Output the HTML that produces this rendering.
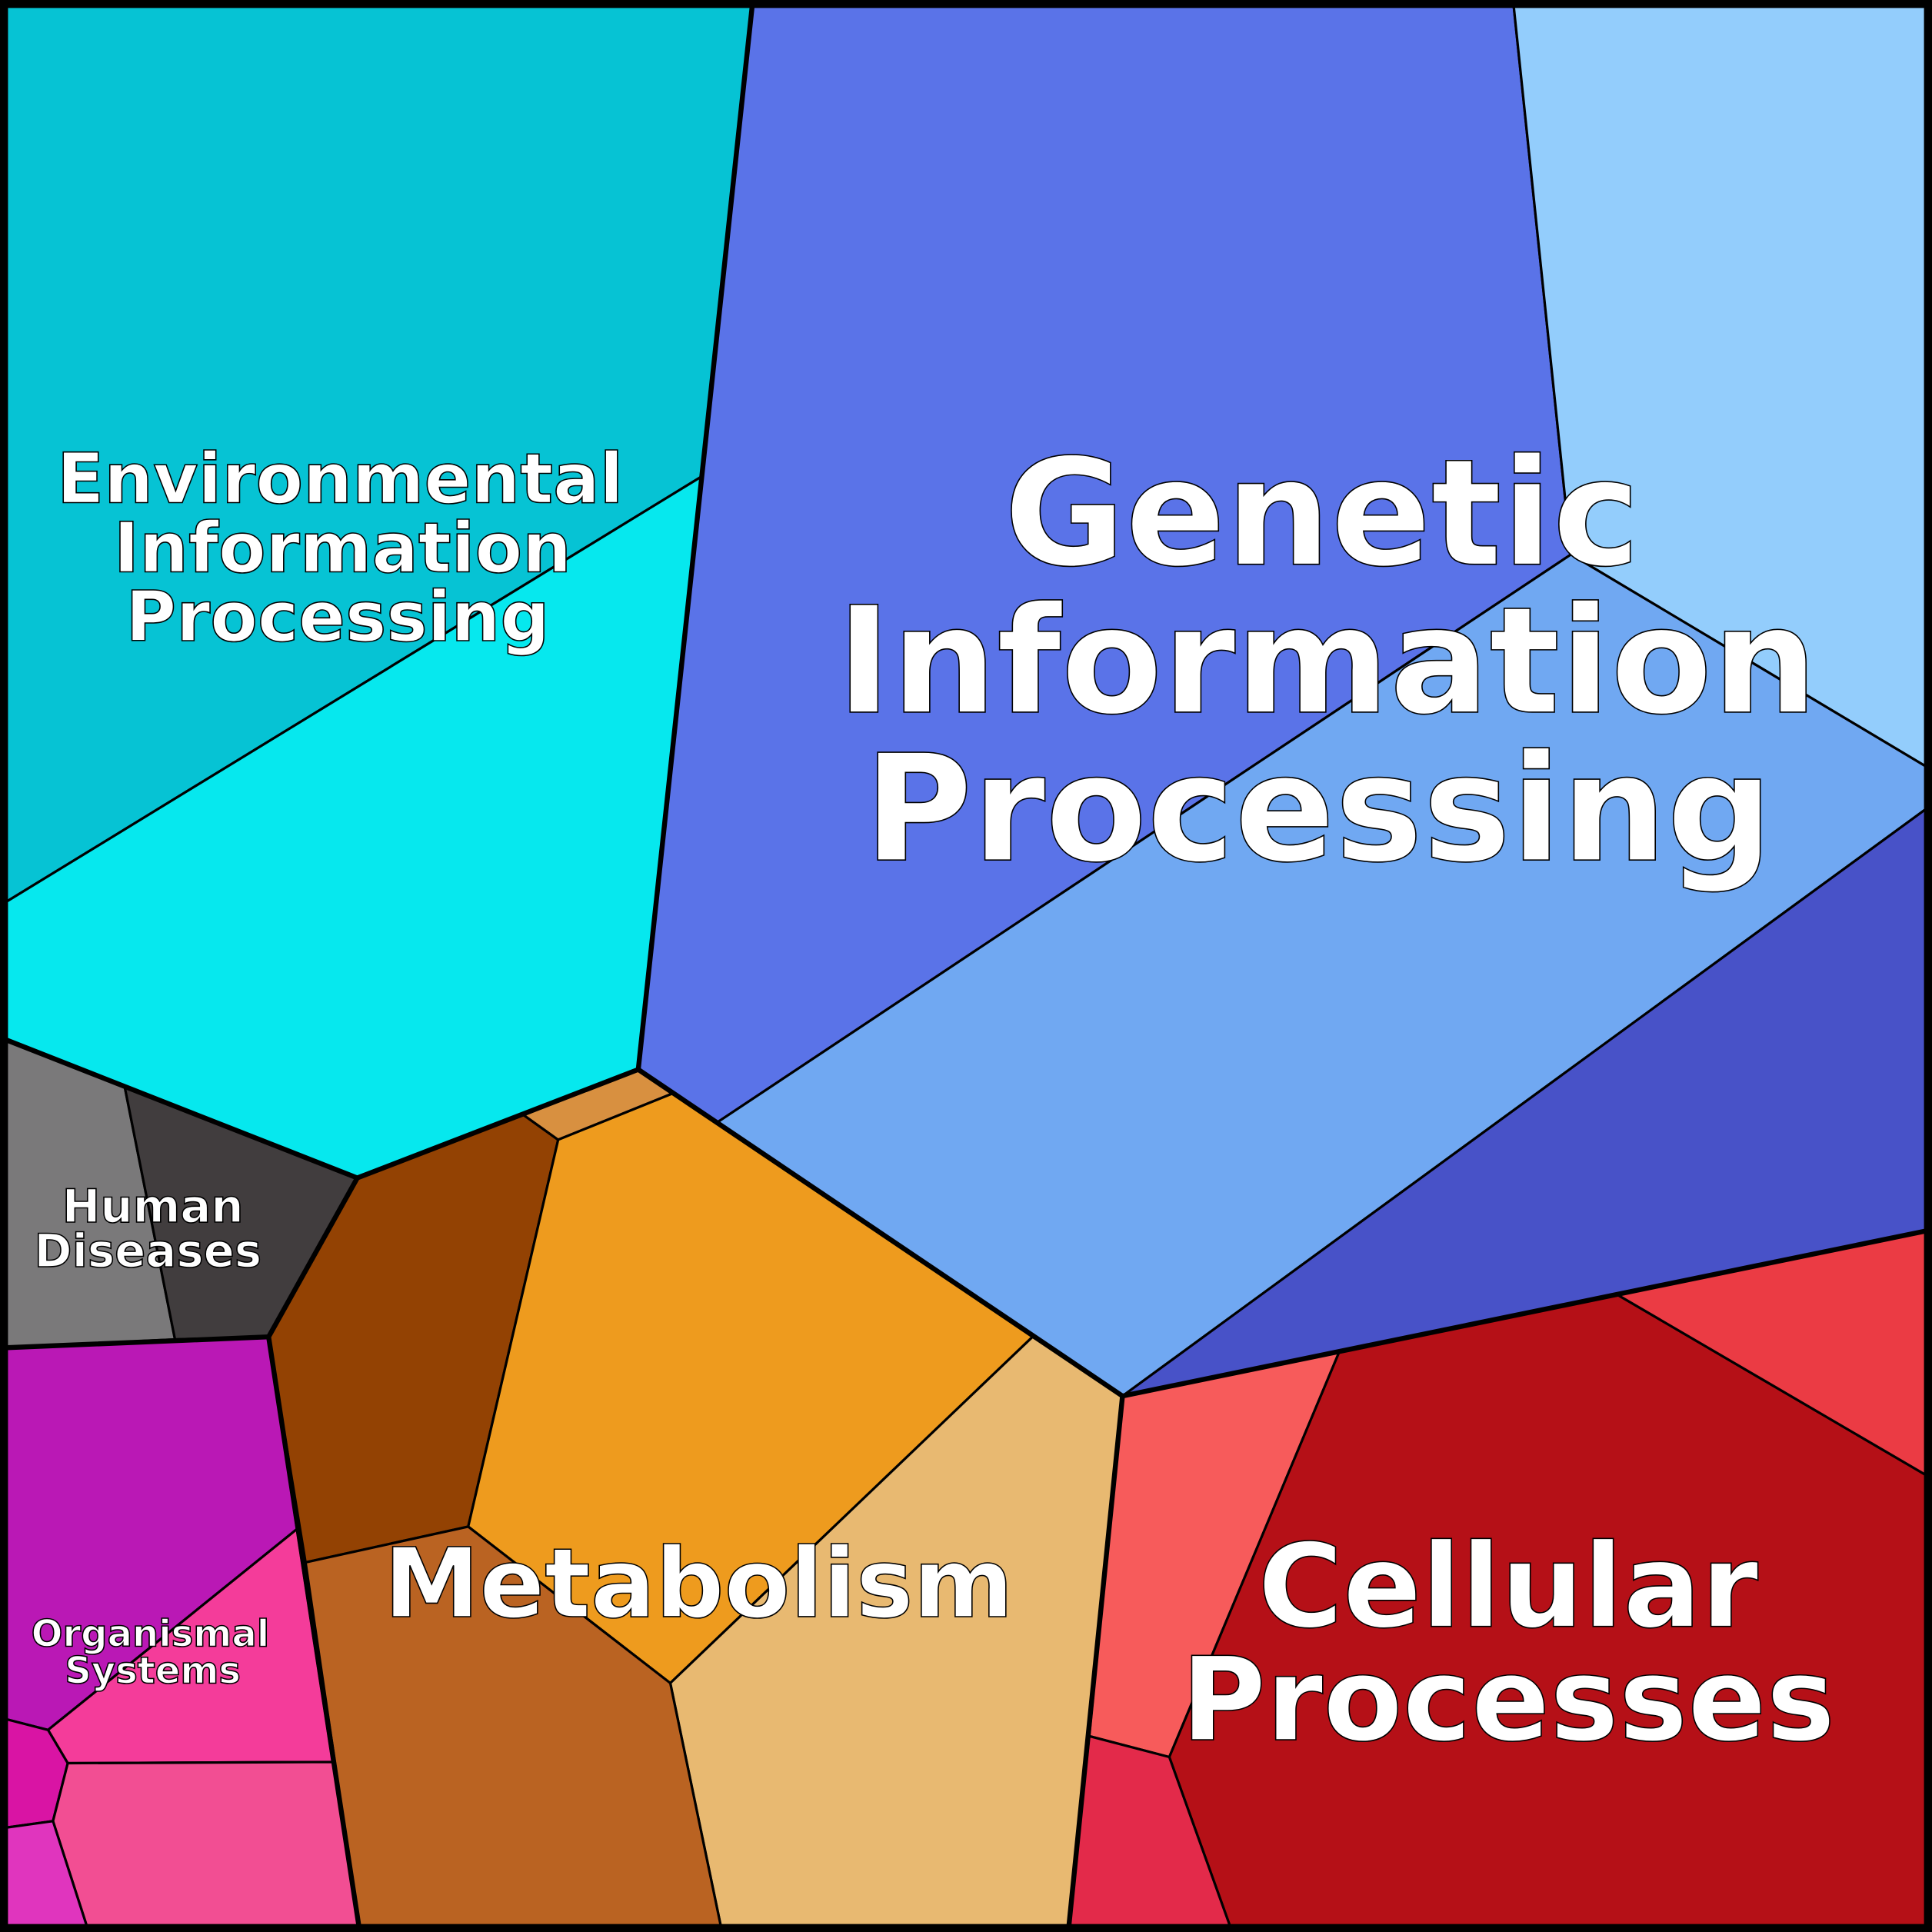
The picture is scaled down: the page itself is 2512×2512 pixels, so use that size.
<!DOCTYPE html>
<html><head><meta charset="utf-8"><style>
html,body{margin:0;padding:0;width:2512px;height:2512px;overflow:hidden;background:#fff}
svg{display:block}
text{font-family:"DejaVu Sans","Liberation Sans",sans-serif;font-weight:bold;fill:#fff;stroke:#000;stroke-width:1;text-anchor:middle}
</style></head><body>
<svg width="2512" height="2512" viewBox="0 0 1568 1568" xmlns="http://www.w3.org/2000/svg">
<g stroke="#000" stroke-width="2" stroke-linejoin="round">
<polygon fill="#06C3D4" points="0,0 611,0 569,387 0,735"/>
<polygon fill="#06E8EE" points="0,735 569,387 518,868 290,956 0,842"/>
<polygon fill="#5A73E8" points="611,0 1228,0 1275,450 582,911 518,868"/>
<polygon fill="#93CDFC" points="1228,0 1568,0 1568,625 1275,450"/>
<polygon fill="#70A8F2" points="582,911 1275,450 1568,625 1568,653 911,1133 838,1085"/>
<polygon fill="#4852C8" points="911,1133 1568,653 1568,998"/>
<polygon fill="#F75B5B" points="911,1133 1087,1097 949,1426 884,1409"/>
<polygon fill="#B51017" points="1087,1097 1313,1051 1568,1200 1568,1568 1000,1568 949,1426"/>
<polygon fill="#EB3B44" points="1313,1051 1568,998 1568,1200"/>
<polygon fill="#E32A4A" points="884,1409 949,1426 1000,1568 867,1568"/>
<polygon fill="#934203" points="290,956 425,905 453,925 380,1239 248,1268 218,1085"/>
<polygon fill="#D89040" points="425,905 518,868 547,887 453,925"/>
<polygon fill="#EE9B1E" points="453,925 547,887 838,1085 544,1366 380,1239"/>
<polygon fill="#E8B971" points="838,1085 911,1133 867,1568 586,1568 544,1366"/>
<polygon fill="#BA6322" points="248,1268 380,1239 544,1366 586,1568 292,1568"/>
<polygon fill="#7A797A" points="0,842 101,881 142,1087 0,1094"/>
<polygon fill="#413D3E" points="101,881 290,956 218,1085 142,1087"/>
<polygon fill="#BA18B5" points="0,1094 218,1085 241,1241 39,1404 0,1394"/>
<polygon fill="#F43C9A" points="39,1404 241,1241 270,1430 55,1431"/>
<polygon fill="#D914A4" points="0,1394 39,1404 55,1431 43,1478 0,1484"/>
<polygon fill="#F24E93" points="55,1431 270,1430 292,1568 72,1568 43,1478"/>
<polygon fill="#E035BE" points="0,1484 43,1478 72,1568 0,1568"/>
</g>
<g stroke="#000" stroke-width="4" fill="none" stroke-linejoin="round" stroke-linecap="round">
<polyline points="611,0 518,868"/>
<polyline points="518,868 911,1133 1568,998"/>
<polyline points="911,1133 867,1568"/>
<polyline points="0,842 290,956 518,868"/>
<polyline points="290,956 218,1085 292,1568"/>
<polyline points="0,1094 218,1085"/>
<rect x="3" y="3" width="1562" height="1562" stroke-width="7"/>
</g>
<text font-size="56" x="276" y="408">Environmental</text>
<text font-size="56" x="278" y="464">Information</text>
<text font-size="56" x="274" y="520">Processing</text>
<text font-size="120" x="1073" y="458">Genetic</text>
<text font-size="120" x="1077" y="578">Information</text>
<text font-size="120" x="1070" y="698">Processing</text>
<text font-size="37" x="124" y="992">Human</text>
<text font-size="37" x="120" y="1028">Diseases</text>
<text font-size="30" x="122" y="1336">Organismal</text>
<text font-size="30" x="124" y="1366">Systems</text>
<text font-size="78" x="567" y="1312">Metabolism</text>
<text font-size="94" x="1224" y="1320">Cellular</text>
<text font-size="94" x="1224" y="1412">Processes</text>
</svg>
</body></html>
